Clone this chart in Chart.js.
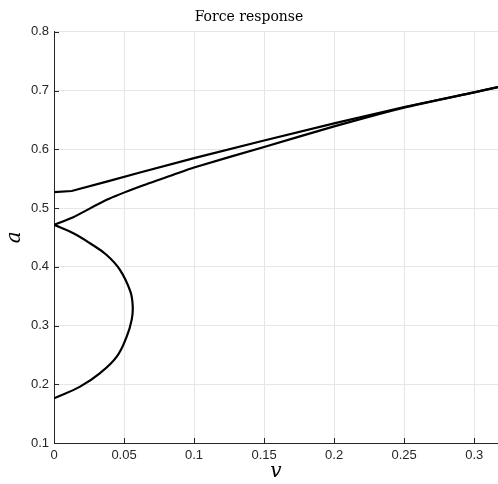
<!DOCTYPE html>
<html>
<head>
<meta charset="utf-8">
<script src="https://cdn.jsdelivr.net/npm/chart.js@4"></script>
<style>
	html, body { margin: 0; padding: 0; background: #fff; }
	#wrap { width: 498px; height: 484px; }
</style>
</head>
<body>
<div id="wrap"><canvas id="forceChart"></canvas></div>
<script>
// Force response data (v, a)
var noseV = [0, 0.0186, 0.0329, 0.0448, 0.0519, 0.0555, 0.0562, 0.0545, 0.0471, 0.0376, 0.0257, 0.0138, 0];
var noseA = [0.176, 0.196, 0.219, 0.247, 0.281, 0.31, 0.333, 0.358, 0.3947, 0.420, 0.440, 0.457, 0.4714];
var lowerV = [0, 0.0138, 0.0376, 0.0614, 0.0852, 0.1, 0.15, 0.2, 0.25, 0.3, 0.317];
var lowerA = [0.4714, 0.4845, 0.514, 0.5366, 0.5566, 0.569, 0.604, 0.639, 0.671, 0.697, 0.706];
var upperV = [0, 0.0126, 0.0376, 0.0614, 0.1, 0.15, 0.2, 0.25, 0.3, 0.317];
var upperA = [0.527, 0.529, 0.545, 0.5605, 0.585, 0.615, 0.644, 0.672, 0.697, 0.706];
var xTicks = [0, 0.05, 0.1, 0.15, 0.2, 0.25, 0.3];
var yTicks = [0.1, 0.2, 0.3, 0.4, 0.5, 0.6, 0.7, 0.8];

function toPoints(xs, ys) {
	return xs.map(function(x, i) { return {x: x, y: ys[i]}; });
}

function curve(xs, ys, tension) {
	return {
		data: toPoints(xs, ys),
		showLine: true,
		borderColor: '#000',
		borderWidth: 2.2,
		pointRadius: 0,
		tension: tension
	};
}

// small inward tick marks, matlab style
var innerTicks = {
	id: 'innerTicks',
	afterDatasetsDraw: function(chart) {
		var ctx = chart.ctx, xs = chart.scales.x, ys = chart.scales.y;
		ctx.save();
		ctx.strokeStyle = '#262626';
		ctx.lineWidth = 1;
		ctx.beginPath();
		xTicks.forEach(function(v) {
			var px = Math.round(xs.getPixelForValue(v)) + 0.5;
			ctx.moveTo(px, ys.bottom);
			ctx.lineTo(px, ys.bottom - 5);
		});
		yTicks.forEach(function(v) {
			var py = Math.round(ys.getPixelForValue(v)) + 0.5;
			ctx.moveTo(xs.left, py);
			ctx.lineTo(xs.left + 5, py);
		});
		ctx.stroke();
		ctx.restore();
	}
};

var ctx = document.getElementById("forceChart");
var forceChart = new Chart(ctx, {
	type: 'scatter',
	data: {
		datasets: [
			curve(noseV, noseA, 0.4),
			curve(lowerV, lowerA, 0.2),
			curve(upperV, upperA, 0)
		]
	},
	options: {
		responsive: true,
		maintainAspectRatio: false,
		animation: false,
		layout: { padding: 0 },
		plugins: {
			legend: { display: false },
			tooltip: { enabled: false },
			title: {
				display: true,
				text: 'Force response',
				color: '#000',
				font: { family: 'DejaVu Serif', size: 14, weight: 'normal' },
				padding: { top: 9, bottom: 6 }
			}
		},
		scales: {
			x: {
				type: 'linear',
				min: 0,
				max: 0.317,
				afterFit: function(scale) { scale.height = 41; },
				afterBuildTicks: function(scale) {
					scale.ticks = xTicks.map(function(v) { return {value: v}; });
				},
				ticks: {
					color: '#262626',
					font: { family: 'Liberation Sans', size: 13 },
					padding: 5,
					maxRotation: 0,
					callback: function(v) { return String(v); }
				},
				grid: { color: '#e6e6e6', drawTicks: false },
				border: { color: '#262626', width: 1 },
				title: {
					display: true,
					text: 'v',
					color: '#000',
					font: { family: 'DejaVu Serif', size: 20, style: 'italic' },
					padding: { top: 0, bottom: 0 }
				}
			},
			y: {
				type: 'linear',
				min: 0.1,
				max: 0.8,
				afterFit: function(scale) { scale.width = 54; },
				afterBuildTicks: function(scale) {
					scale.ticks = yTicks.map(function(v) { return {value: v}; });
				},
				ticks: {
					color: '#262626',
					font: { family: 'Liberation Sans', size: 13 },
					padding: 5,
					callback: function(v) { return v.toFixed(1); }
				},
				grid: { color: '#e6e6e6', drawTicks: false },
				border: { color: '#262626', width: 1 },
				title: {
					display: true,
					text: 'a',
					color: '#000',
					font: { family: 'DejaVu Serif', size: 20, style: 'italic' },
					padding: { top: 3, bottom: 0 }
				}
			}
		}
	},
	plugins: [innerTicks]
});
</script>
</body>
</html>
